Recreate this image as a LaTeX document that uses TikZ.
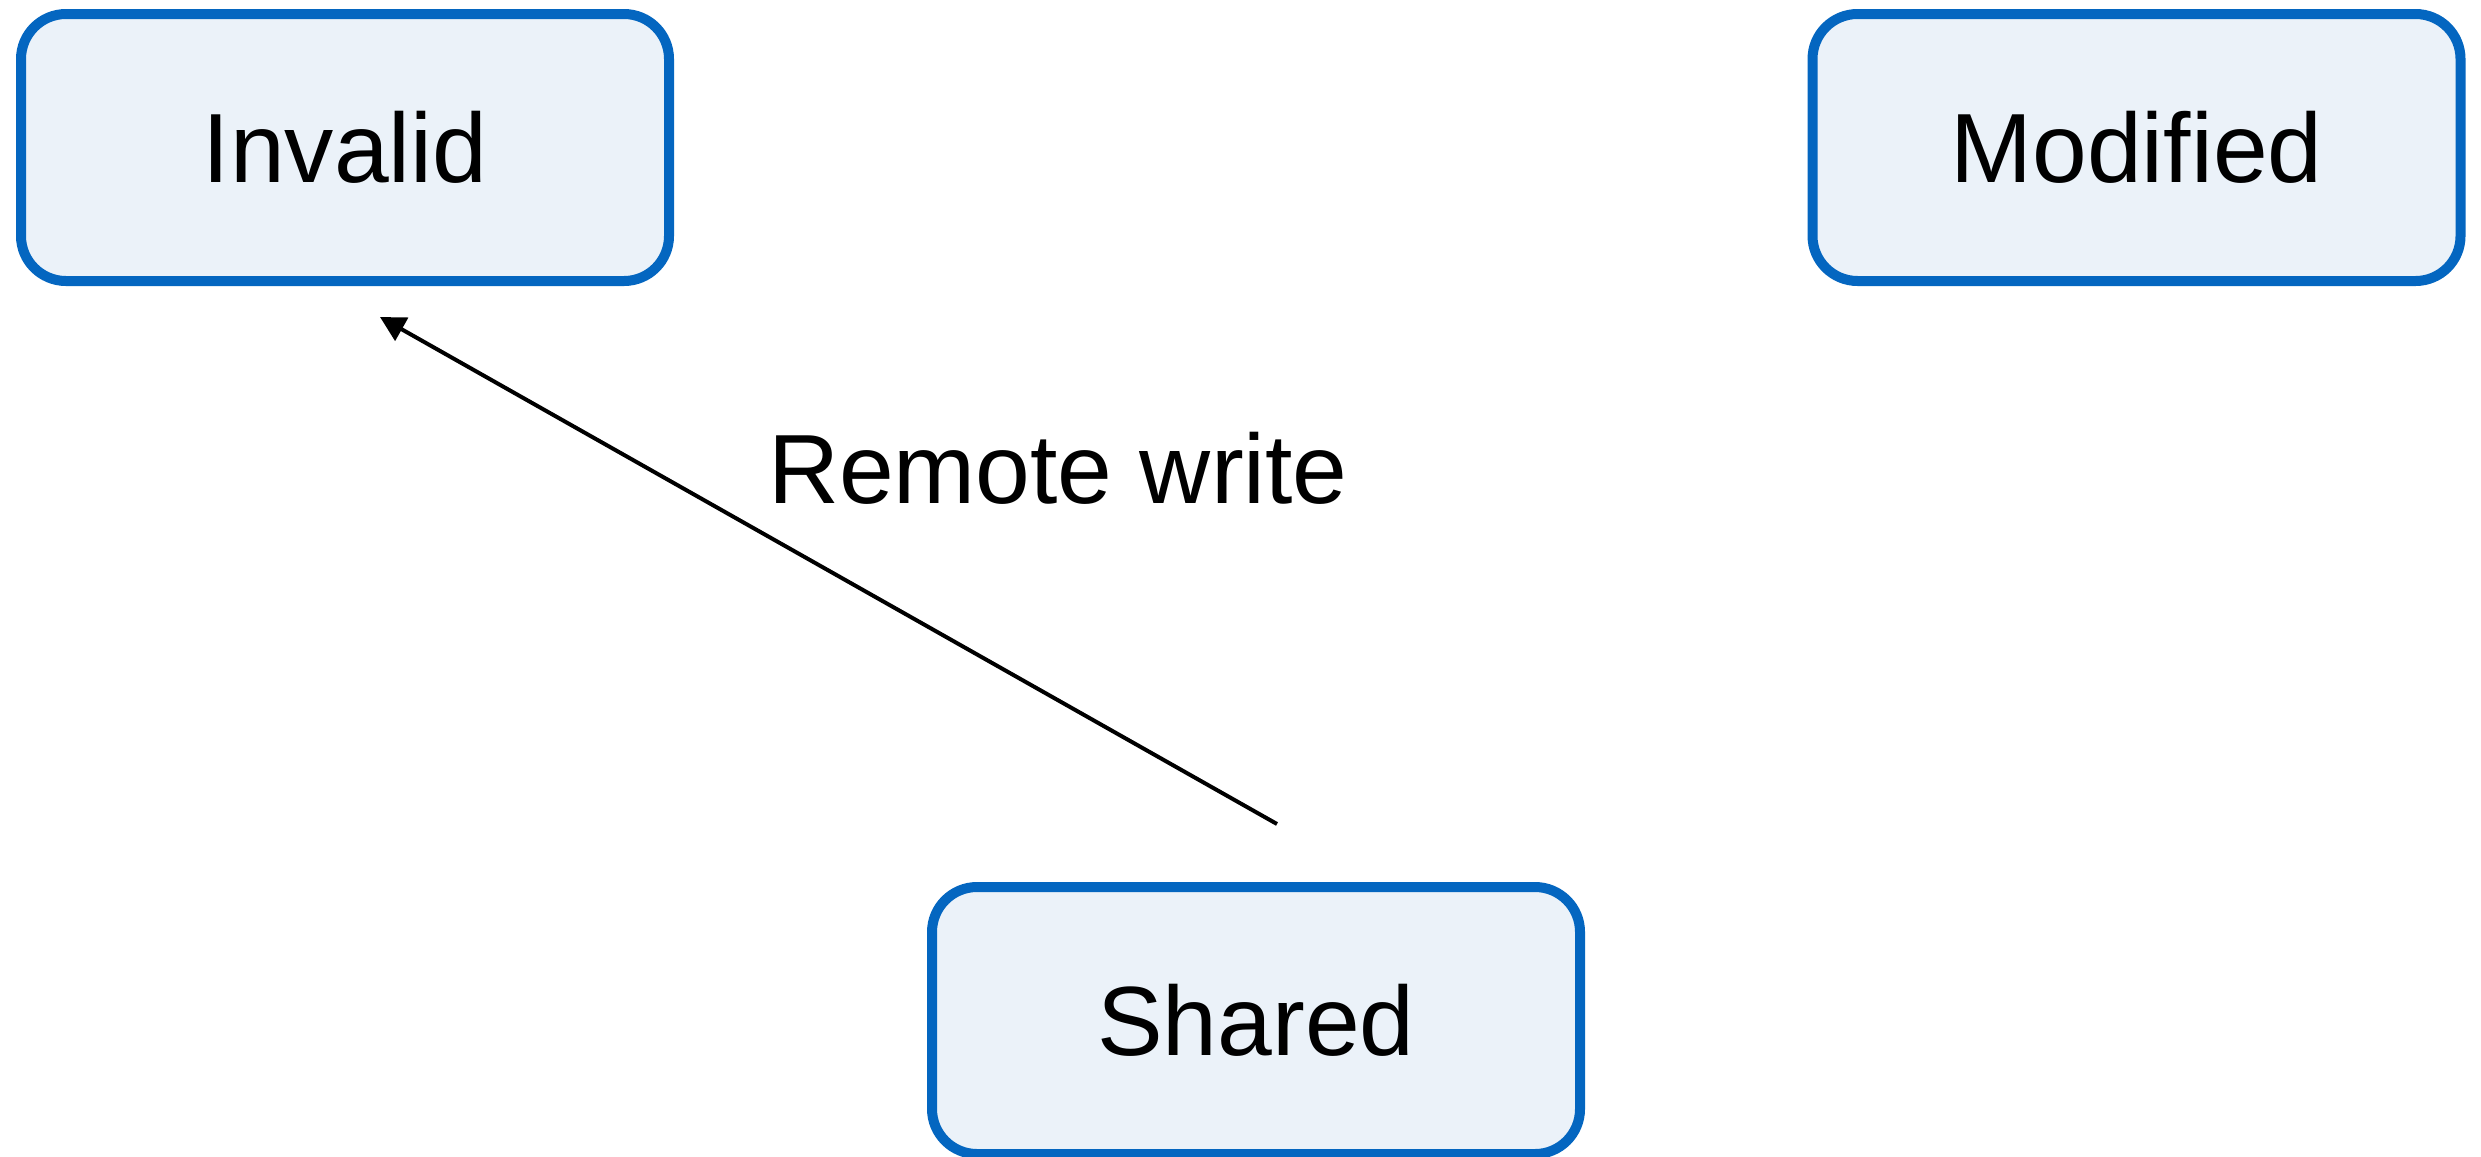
\documentclass[tikz,border=0pt]{standalone}
\usepackage{fontspec}
\setmainfont{Liberation Sans}
\usetikzlibrary{arrows.meta}
\definecolor{boxblue}{RGB}{4,102,192}
\definecolor{boxfill}{RGB}{235,242,249}
\tikzset{
  statebox/.style={draw=boxblue, fill=boxfill, line width=1mm, rounded corners=4.5mm,
    inner sep=0pt, minimum height=26.7mm, minimum width=64.8mm,
    font=\fontsize{28}{34}\selectfont,
    text height=20pt, text depth=0pt, anchor=center},
  trans/.style={-{Triangle[length=2.5mm,width=2.6mm]}, line width=0.4mm, black},
  translabel/.style={font=\fontsize{28}{34}\selectfont, inner sep=0pt, anchor=base}
}
\begin{document}
\begin{tikzpicture}[x=0.1mm,y=-0.1mm]
\useasboundingbox (0,0) rectangle (2481,1156);
\node[statebox] (invalid) at (345,147.5) {Invalid};
\node[statebox] (modified) at (2136.5,147.5) {Modified};
\node[statebox] (shared) at (1256,1020.5) {Shared};
\coordinate (rwfrom) at (1277,824);
\coordinate (rwto) at (380,317);
\draw[trans] (rwfrom) -- (rwto);
\node[translabel] (rwlabel) at (1058,503) {Remote write};
\end{tikzpicture}
\end{document}
